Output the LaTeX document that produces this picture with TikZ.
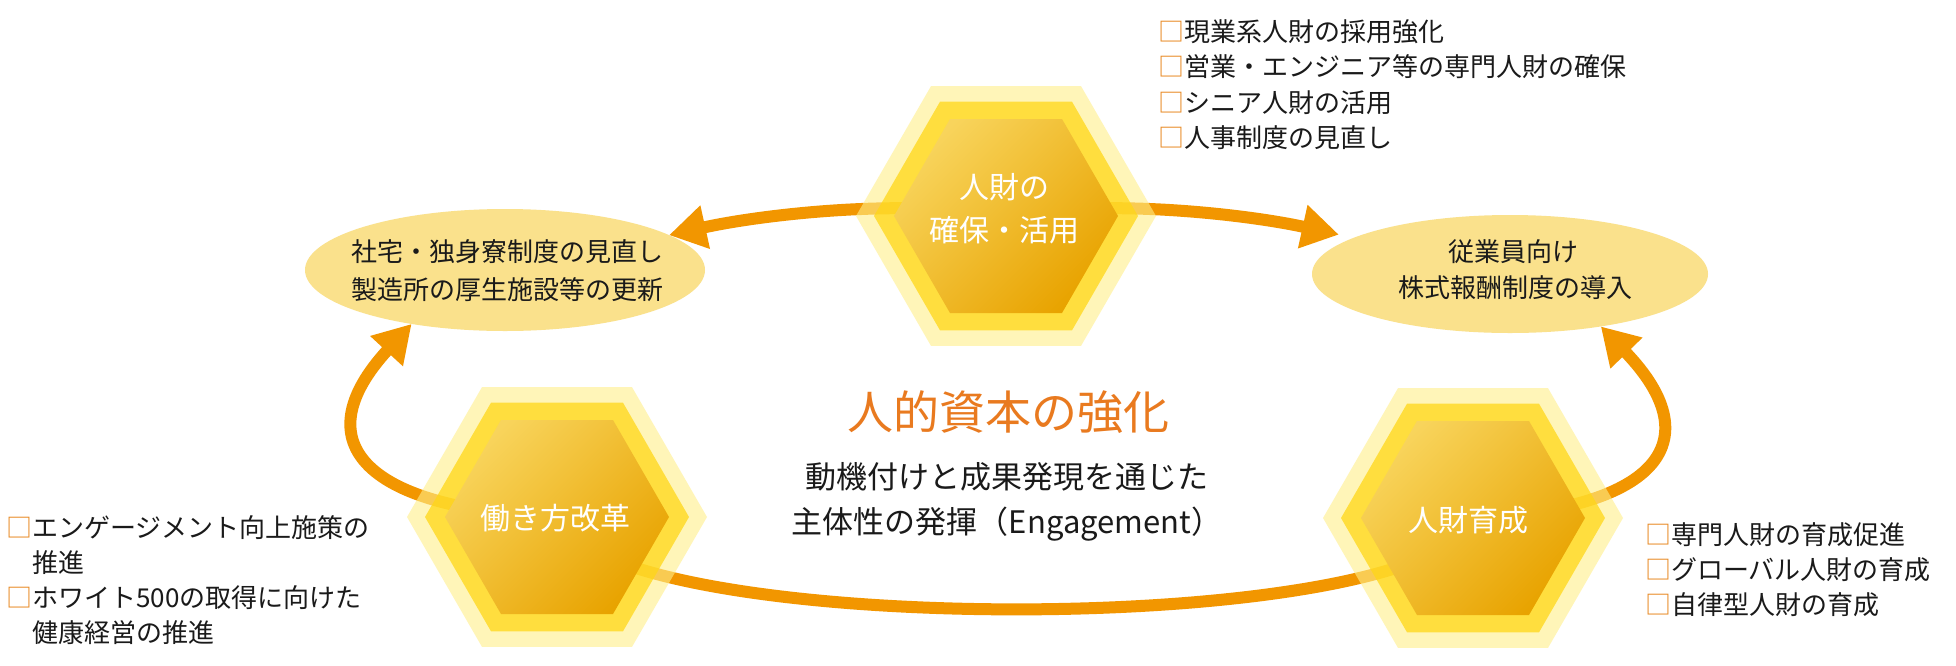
\documentclass[tikz,border=0pt]{standalone}
\usepackage{fontspec}
\setmainfont{Noto Sans CJK JP}
\usetikzlibrary{shapes.geometric,arrows.meta}
\definecolor{arrc}{HTML}{F29600}
\definecolor{ellc}{HTML}{FAE18C}
\definecolor{hexo}{HTML}{FFEF8A}
\definecolor{hexm}{HTML}{FFD716}
\definecolor{hexa}{HTML}{F8D45C}
\definecolor{hexb}{HTML}{F2BD14}
\definecolor{hexc}{HTML}{E8A300}
\definecolor{titc}{HTML}{E97A1F}
\definecolor{boxc}{HTML}{E8871E}
\definecolor{txtc}{HTML}{1A1A1A}
\newcommand\obox{{\color{boxc}□}}
\pgfdeclarelayer{bglayer}
\pgfdeclarelayer{ellayer}
\pgfdeclarelayer{arrlayer}
\pgfsetlayers{bglayer,ellayer,arrlayer,main}
\begin{document}
\begin{tikzpicture}[x=1pt,y=-1pt,
  hexouter/.style={regular polygon, regular polygon sides=6, minimum size=300pt, inner sep=0pt, outer sep=0pt, draw=none, fill=hexo, fill opacity=0.6},
  hexmid/.style={regular polygon, regular polygon sides=6, minimum size=264pt, inner sep=0pt, outer sep=0pt, draw=none, fill=hexm, fill opacity=0.75},
  hexinner/.style={regular polygon, regular polygon sides=6, minimum size=224pt, inner sep=0pt, outer sep=0pt, draw=none, left color=hexa, middle color=hexb, right color=hexc, shading angle=45},
  ellnode/.style={ellipse, fill=ellc, draw=none, inner sep=0pt, outer sep=0pt, minimum width=400pt, minimum height=122pt},
  arr/.style={draw=arrc, line width=12pt, -{Triangle[length=37pt,width=42pt]}},
  arcline/.style={draw=arrc, line width=12pt},
  lst/.style={inner sep=0pt, anchor=west, text=txtc, font=\fontsize{26}{30}\selectfont, text height=22.9pt, text depth=3.1pt},
  elltxt/.style={inner sep=0pt, anchor=center, text=txtc, font=\fontsize{26}{30}\selectfont, text height=22.9pt, text depth=3.1pt},
  hextxt/.style={inner sep=0pt, anchor=center, text=white, font=\fontsize{30}{34}\selectfont, text height=26.4pt, text depth=3.6pt},
  titletxt/.style={inner sep=0pt, anchor=center, text=titc, font=\fontsize{46}{50}\selectfont, text height=40.5pt, text depth=5.5pt},
  subtxt/.style={inner sep=0pt, anchor=center, text=txtc, font=\fontsize{31}{36}\selectfont, text height=27.3pt, text depth=3.7pt}
]
\begin{pgfonlayer}{bglayer}
\fill[white] (0,0) rectangle (1956,665);
\end{pgfonlayer}
\useasboundingbox (0,0) rectangle (1956,665);

% ellipses
\begin{pgfonlayer}{ellayer}
\node[ellnode, minimum width=400pt, minimum height=122pt] (L) at (505,270) {};
\node[ellnode, minimum width=396pt, minimum height=118pt] (R) at (1510,274) {};
\end{pgfonlayer}

% hexagons
\node[hexouter] (To) at (1006,216) {};
\node[hexmid] (Tm) at (1006,216) {};
\node[hexinner] (T) at (1006,216) {};
\node[hexouter] (Wo) at (557,517) {};
\node[hexmid] (Wm) at (557,517) {};
\node[hexinner] (W) at (557,517) {};
\node[hexouter] (Ho) at (1473,518) {};
\node[hexmid] (Hm) at (1473,518) {};
\node[hexinner] (H) at (1473,518) {};

% arrows
\begin{pgfonlayer}{arrlayer}
\draw[arr] (T.center) .. controls (900,198) and (760,215) .. (L.12);
\draw[arr, shorten >=15pt] (T.center) .. controls (1110,198) and (1250,215) .. (R.167);
\draw[arr] (W.center) .. controls (370,510) and (300,445) .. (L.210);
\draw[arr] (H.center) .. controls (1650,510) and (1715,445) .. (R.-30);
\draw[arcline] (W.center) .. controls (600,640) and (1430,640) .. (H.center);
\end{pgfonlayer}

% hexagon texts
\node[hextxt] (T1) at (1004,187) {人財の};
\node[hextxt] (T2) at (1004,230) {確保・活用};
\node[hextxt] (W1) at (555,518) {働き方改革};
\node[hextxt] (H1) at (1468,520) {人財育成};

% ellipse texts
\node[elltxt] (L1) at (507,252) {社宅・独身寮制度の見直し};
\node[elltxt] (L2) at (507,290) {製造所の厚生施設等の更新};
\node[elltxt] (R1) at (1513,252) {従業員向け};
\node[elltxt] (R2) at (1515,288) {株式報酬制度の導入};

% centre
\node[titletxt] (C0) at (1008,412) {人的資本の強化};
\node[subtxt] (C1) at (1007,477) {動機付けと成果発現を通じた};
\node[subtxt] (C2) at (1007,522) {主体性の発揮（Engagement）};

% lists
\node[lst] (A1) at (1158,32) {\obox 現業系人財の採用強化};
\node[lst] (A2) at (1158,67) {\obox 営業・エンジニア等の専門人財の確保};
\node[lst] (A3) at (1158,103) {\obox シニア人財の活用};
\node[lst] (A4) at (1158,138) {\obox 人事制度の見直し};

\node[lst] (B1) at (6,528) {\obox エンゲージメント向上施策の};
\node[lst] (B2) at (32,563) {推進};
\node[lst] (B3) at (6,598) {\obox ホワイト500の取得に向けた};
\node[lst] (B4) at (32,633) {健康経営の推進};

\node[lst] (D1) at (1645,535) {\obox 専門人財の育成促進};
\node[lst] (D2) at (1645,570) {\obox グローバル人財の育成};
\node[lst] (D3) at (1645,605) {\obox 自律型人財の育成};
\end{tikzpicture}
\end{document}
